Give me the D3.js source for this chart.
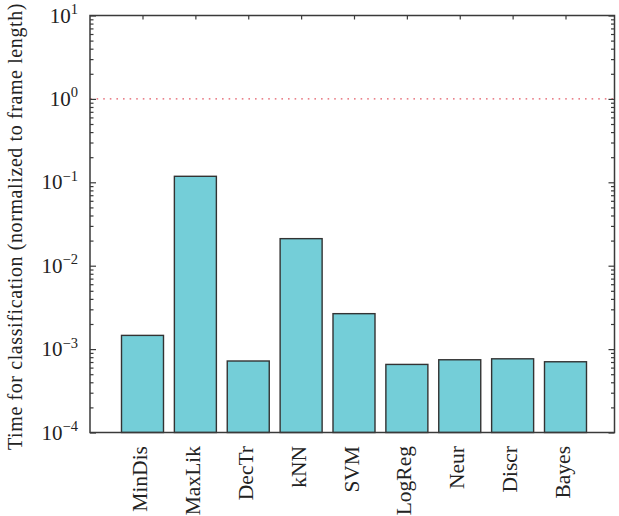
<!DOCTYPE html>
<html>
<head>
<meta charset="utf-8">
<script src="https://cdn.jsdelivr.net/npm/d3@7"></script>
<style>
  html, body { margin: 0; padding: 0; background: #fff; }
  svg { display: block; font-family: "Liberation Serif", "DejaVu Serif", serif; }
</style>
</head>
<body>
<svg id="chart" width="619" height="516"></svg>
<script>
// Classifier names and their classification time (normalized to frame length)
const categories = ["MinDis", "MaxLik", "DecTr", "kNN", "SVM", "LogReg", "Neur", "Discr", "Bayes"];
const times = [1.46e-3, 0.118, 7.2e-4, 0.0211, 2.66e-3, 6.55e-4, 7.45e-4, 7.65e-4, 7.05e-4];
// Decade exponents labelled on the y axis
const yTickExponents = [-4, -3, -2, -1, 0, 1];
// Real-time limit drawn as a dotted line
const realTimeLimit = [1];
const yTitle = "Time for classification (normalized to frame length)";

const svg = d3.select("#chart");
const frame = { left: 90, right: 614.5, top: 15.5, bottom: 432.5 };
const barColor = "#74ced8";
const axisColor = "#3a3a3a";

const y = d3.scaleLog().domain([1e-4, 10]).range([frame.bottom, frame.top]);
const x = d3.scaleLinear().domain([0, categories.length - 1]).range([142.5, 565.5]);
const barWidth = 42;

const majorTicks = yTickExponents.map(e => Math.pow(10, e));
const minorTicks = [];
yTickExponents.slice(0, -1).forEach(e => {
  for (let m = 2; m <= 9; m++) minorTicks.push(m * Math.pow(10, e));
});

// tick marks on every side of the frame, pointing inward
function tickLayer(axisGen, transform) {
  const g = svg.append("g").attr("transform", transform).call(axisGen);
  g.select(".domain").remove();
  g.selectAll(".tick line").attr("stroke", axisColor).attr("stroke-width", 1.2);
  g.selectAll(".tick text").remove();
  return g;
}

// bottom ticks sit behind the bars
tickLayer(d3.axisBottom(x).tickValues(d3.range(categories.length)).tickSize(-4), `translate(0,${frame.bottom})`);

// bars
svg.append("g").selectAll("rect")
  .data(times)
  .join("rect")
  .attr("x", (d, i) => x(i) - barWidth / 2)
  .attr("y", d => y(d))
  .attr("width", barWidth)
  .attr("height", d => frame.bottom - y(d))
  .attr("fill", barColor)
  .attr("stroke", "#333")
  .attr("stroke-width", 1.4);

// dotted reference line at 1 frame length
svg.append("g").selectAll("line")
  .data(realTimeLimit)
  .join("line")
  .attr("x1", frame.left).attr("x2", frame.right)
  .attr("y1", d => y(d)).attr("y2", d => y(d))
  .attr("stroke", "#e35a66")
  .attr("stroke-width", 1.3)
  .attr("stroke-dasharray", "1.6,5");

// y ticks on left and right sides
tickLayer(d3.axisLeft(y).tickValues(majorTicks).tickSize(-6), `translate(${frame.left},0)`);
tickLayer(d3.axisLeft(y).tickValues(minorTicks).tickSize(-3.5), `translate(${frame.left},0)`);
tickLayer(d3.axisRight(y).tickValues(majorTicks).tickSize(-6), `translate(${frame.right},0)`);
tickLayer(d3.axisRight(y).tickValues(minorTicks).tickSize(-3.5), `translate(${frame.right},0)`);
// top ticks at category centres
tickLayer(d3.axisTop(x).tickValues(d3.range(categories.length)).tickSize(-4), `translate(0,${frame.top})`);

// frame
svg.append("rect")
  .attr("x", frame.left).attr("y", frame.top)
  .attr("width", frame.right - frame.left).attr("height", frame.bottom - frame.top)
  .attr("fill", "none")
  .attr("stroke", axisColor)
  .attr("stroke-width", 1.5);

// y tick labels as 10 with superscript exponent
const yLabels = svg.append("g").selectAll("text")
  .data(yTickExponents)
  .join("text")
  .attr("x", 78)
  .attr("y", e => y(Math.pow(10, e)) + 7)
  .attr("text-anchor", "end")
  .attr("font-size", 21)
  .attr("fill", "#222");
yLabels.append("tspan").text("10");
yLabels.append("tspan")
  .attr("dy", -8.5)
  .attr("font-size", 14.5)
  .text(e => e < 0 ? "\u2212" + Math.abs(e) : String(e));

// x category labels, rotated
svg.append("g").selectAll("text")
  .data(categories)
  .join("text")
  .attr("transform", (d, i) => `translate(${x(i) + 4.5},446) rotate(-90)`)
  .attr("text-anchor", "end")
  .attr("font-size", 21.5)
  .attr("fill", "#222")
  .text(d => d);

// y axis title
svg.append("text")
  .attr("transform", `translate(22,${(10 + 443) / 2}) rotate(-90)`)
  .attr("text-anchor", "middle")
  .attr("font-size", 20)
  .attr("letter-spacing", 0.6)
  .attr("fill", "#222")
  .text(yTitle);
</script>
</body>
</html>
